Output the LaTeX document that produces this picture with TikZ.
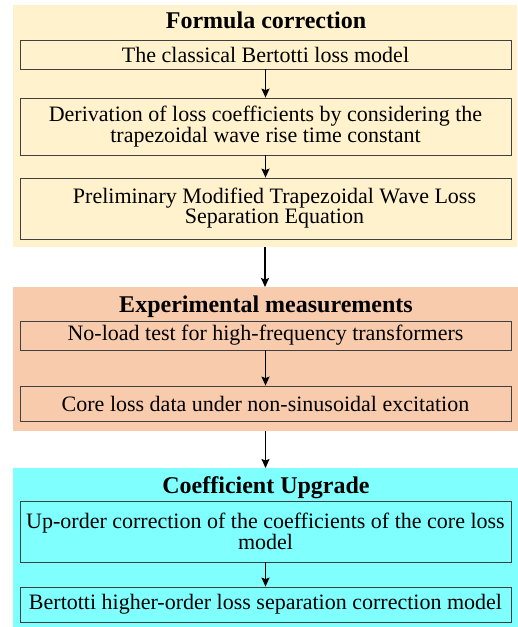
\documentclass[tikz,border=0pt]{standalone}
\usepackage{fontspec}
\setmainfont{Liberation Serif}
\usetikzlibrary{arrows.meta, positioning}
\definecolor{formulabg}{HTML}{FFF2CC}
\definecolor{measurebg}{HTML}{F8CBAD}
\definecolor{upgradebg}{HTML}{80FFFF}

\begin{document}
\begin{tikzpicture}[x=1pt, y=-1pt,
    panel/.style={rectangle, inner sep=0pt, outer sep=0pt},
    stepbox/.style={draw=black!75, line width=0.8pt, minimum width=491pt, inner sep=0pt, align=center, font=\fontsize{22}{20}\selectfont},
    title/.style={anchor=base, font=\fontsize{24}{26}\bfseries\selectfont},
    flow/.style={-{Stealth[length=9pt, width=8pt, inset=1.5pt]}, line width=1.3pt}]
    \useasboundingbox (0,0) rectangle (518,627);
    % the three stages
    \node[panel, fill=formulabg, minimum width=504pt, minimum height=242pt] (formula) at (265,126) {};
    \node[panel, fill=measurebg, minimum width=505pt, minimum height=144pt] (measure) at (265.5,359) {};
    \node[panel, fill=upgradebg, minimum width=505pt, minimum height=159pt] (upgrade) at (265.5,547.5) {};
    \node[title] (formulatitle) at (266,28) {Formula correction};
    \node[title] (measuretitle) at (266,312) {Experimental measurements};
    \node[title] (upgradetitle) at (266,493) {Coefficient Upgrade};
    % steps
    \node[stepbox, minimum height=29pt] (classic) at (265.5,54.5) {The classical Bertotti loss model};
    \node[stepbox, minimum height=57pt] (deriv) at (265.5,126.5) {Derivation of loss coefficients by considering the\\ trapezoidal wave rise time constant};
    \node[stepbox, minimum height=61pt] (prelim) at (265.5,208.5) {\hspace*{18pt}Preliminary Modified Trapezoidal Wave Loss\\ \hspace*{18pt}Separation Equation};
    \node[stepbox, minimum height=29pt] (noload) at (265.5,335.5) {No-load test for high-frequency transformers};
    \node[stepbox, minimum height=35pt] (coredata) at (265.5,403.5) {Core loss data under non-sinusoidal excitation};
    \node[stepbox, minimum height=61pt, font=\fontsize{22}{16}\selectfont] (uporder) at (265.5,531.5) {Up-order correction of the coefficients of the core loss\\ model};
    \node[stepbox, minimum height=35pt] (bertotti) at (265.5,604.5) {Bertotti higher-order loss separation correction model};
    % arrows
    \draw[flow] (classic.south) -- (deriv.north);
    \draw[flow] (deriv.south) -- (prelim.north);
    \draw[flow] (formula.south) -- (formula.south |- measure.north);
    \draw[flow] (noload.south) -- (coredata.north);
    \draw[flow] (measure.south) -- (measure.south |- upgrade.north);
    \draw[flow] (uporder.south) -- (bertotti.north);
\end{tikzpicture}
\end{document}
